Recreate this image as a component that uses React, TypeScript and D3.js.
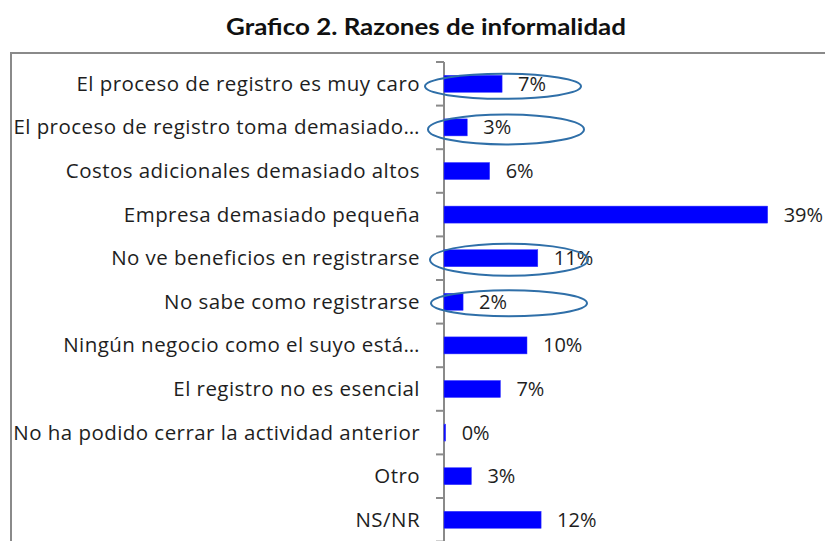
import React from "react";
import * as d3 from "d3";

const categories = [
  "El proceso de registro es muy caro",
  "El proceso de registro toma demasiado…",
  "Costos adicionales demasiado altos",
  "Empresa demasiado pequeña",
  "No ve beneficios en registrarse",
  "No sabe como registrarse",
  "Ningún negocio como el suyo está…",
  "El registro no es esencial",
  "No ha podido cerrar la actividad anterior",
  "Otro",
  "NS/NR",
];
const values = [7, 2.8, 5.5, 39, 11.3, 2.3, 10, 6.8, 0.2, 3.3, 11.7];
const valueLabels = ["7%", "3%", "6%", "39%", "11%", "2%", "10%", "7%", "0%", "3%", "12%"];
const circled = [0, 1, 4, 5];
const title = "Grafico 2. Razones de informalidad";

export default function App() {
  const W = 825, H = 541;
  const axisX = 444;
  const y = d3.scaleBand<string>().domain(categories).range([62, 62 + 11 * 43.6]).paddingInner(0.61).paddingOuter(0.305);
  const x = d3.scaleLinear().domain([0, 40]).range([0, 332]);
  const step = y.step();
  const ticks = d3.range(categories.length + 1).map((i) => 62 + i * step);
  const font = "'Open Sans', Lato, sans-serif";
  const ellipseStyle = [
    { cx: 503, dy: 2.5, rx: 78, ry: 12.5 },
    { cx: 506, dy: 2, rx: 78, ry: 15 },
    { cx: 509, dy: 1.5, rx: 79, ry: 16 },
    { cx: 509, dy: 1.5, rx: 78, ry: 13 },
  ];
  return (
    <svg width={W} height={H} style={{ position: "absolute", left: 0, top: 0, background: "#fff" }}>
      <rect x={0} y={0} width={W} height={H} fill="#fff" />
      <text x={426} y={35} textAnchor="middle" fontFamily="Lato, sans-serif" fontWeight="bold" fontSize={22} fill="#111" textLength={400} lengthAdjust="spacingAndGlyphs">{title}</text>
      <rect x={11} y={53} width={W + 20} height={H} fill="none" stroke="#8a8a8a" strokeWidth={2} />
      <line x1={axisX} x2={axisX} y1={62} y2={H} stroke="#8a8a8a" strokeWidth={2} />
      {ticks.map((t, i) => (
        <line key={i} x1={axisX - 8} x2={axisX} y1={t} y2={t} stroke="#8a8a8a" strokeWidth={2} />
      ))}
      {categories.map((c, i) => {
        const yc = (y(c) as number) + y.bandwidth() / 2;
        return (
          <g key={c}>
            <text x={420} y={yc + 7} textAnchor="end" fontFamily={font} fontSize={20.5} letterSpacing={0.45} fill="#1e1e1e">{c}</text>
            <rect x={axisX} y={y(c)} width={Math.max(1, x(values[i]))} height={y.bandwidth()} fill="#0000ff" stroke="#3a3aff" strokeWidth={0.5} />
            <text x={axisX + x(values[i]) + 16} y={yc + 7} fontFamily={font} fontSize={20} fill="#1e1e1e">{valueLabels[i]}</text>
          </g>
        );
      })}
      {circled.map((i, k) => {
        const yc = (y(categories[i]) as number) + y.bandwidth() / 2;
        const s = ellipseStyle[k];
        return <ellipse key={i} cx={s.cx} cy={yc + s.dy} rx={s.rx} ry={s.ry} fill="none" stroke="#2f6fa8" strokeWidth={2} />;
      })}
    </svg>
  );
}
